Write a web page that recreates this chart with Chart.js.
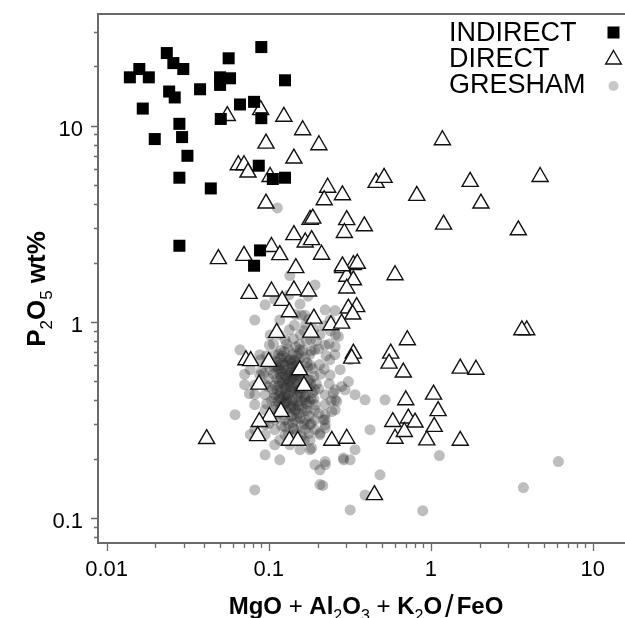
<!DOCTYPE html>
<html><head><meta charset="utf-8">
<script src="https://cdn.jsdelivr.net/npm/chart.js@4.4.1/dist/chart.umd.min.js"></script>
<style>html,body{margin:0;padding:0;background:#fff;overflow:hidden;}#wrap{width:625px;height:618px;overflow:hidden;}canvas{display:block;}</style>
</head><body><div id="wrap"><canvas id="c" width="625" height="618" style="width:625px;height:618px"></canvas></div>
<script>
const seriesLabels = ['INDIRECT', 'DIRECT', 'GRESHAM'];

const indirect = [
[0.0139,17.6],[0.0159,19.4],[0.0182,17.6],[0.0235,23.4],[0.0258,20.8],[0.0297,19.4],[0.0243,14.9],[0.0263,13.9],
[0.0167,12.2],[0.0377,15.3],[0.0501,17.6],[0.0501,16.1],[0.0577,17.4],[0.0566,22.0],[0.090,25.1],[0.126,17.0],
[0.0665,12.8],[0.0812,13.2],[0.0506,10.8],[0.090,10.9],[0.0281,10.2],[0.0198,8.53],[0.0292,8.73],[0.0315,7.01],
[0.0281,5.42],[0.0439,4.78],[0.0868,6.24],[0.106,5.34],[0.126,5.42],[0.0281,2.44],[0.0884,2.31],[0.0812,1.93]
];

const direct = [
[0.0555,11.2],[0.0892,12.0],[0.124,11.1],[0.162,9.48],[0.0962,8.10],[0.143,6.80],[0.0649,6.29],[0.0704,6.29],
[0.0745,5.77],[0.102,5.48],[0.0962,4.01],[0.180,3.31],[0.143,2.77],[0.168,2.54],[0.104,2.41],[0.117,2.19],
[0.0704,2.17],[0.0489,2.09],[0.147,1.88],[0.286,1.88],[0.333,1.95],[0.303,1.70],[0.333,1.63],[0.303,1.48],
[0.602,1.73],[0.0756,1.39],[0.104,1.43],[0.143,1.45],[0.176,1.43],[0.121,1.28],[0.134,1.12],[0.310,1.17],
[0.349,1.19],[0.330,1.09],[0.190,1.04],[0.242,0.962],[0.282,0.980],[0.182,0.882],[0.112,0.879],[0.333,0.689],
[0.325,0.650],[0.566,0.689],[0.553,0.613],[0.0724,0.638],[0.0774,0.631],[0.100,0.626],[0.155,0.567],[0.0871,0.479],
[0.165,0.472],[0.119,0.348],[0.101,0.328],[0.0875,0.309],[0.0855,0.262],[0.0414,0.253],[0.134,0.248],[0.151,0.248],
[0.245,0.248],[0.303,0.254],[0.583,0.309],[0.602,0.254],[0.449,0.131],[0.204,7.95],[1.18,8.43],[0.460,5.11],
[0.515,5.42],[1.75,5.17],[4.73,5.48],[0.231,4.83],[0.220,4.17],[0.285,4.42],[0.820,4.39],[2.04,4.01],
[0.187,3.36],[0.303,3.30],[0.293,2.84],[0.389,3.07],[1.20,3.13],[3.47,2.93],[0.184,2.61],[0.212,2.20],
[0.285,1.92],[0.352,1.98],[3.91,0.907],[3.65,0.907],[0.717,0.807],[0.677,0.552],[1.52,0.578],[1.90,0.571],
[0.701,0.399],[1.04,0.426],[1.11,0.351],[0.727,0.322],[0.80,0.307],[0.687,0.275],[1.05,0.292],[0.945,0.249],
[1.52,0.248]
];

const gresham = [
[0.135,1.72],[0.193,1.54],[0.095,1.22],[0.109,1.30],[0.133,1.37],[0.156,1.23],[0.146,1.09],[0.167,1.08],[0.223,1.15],[0.257,1.14],
[0.239,1.02],[0.169,0.965],[0.144,0.96],[0.117,1.02],[0.134,0.91],[0.157,0.86],[0.181,0.81],[0.207,0.86],[0.240,0.90],[0.258,0.855],
[0.222,0.76],[0.192,0.72],[0.179,0.68],[0.155,0.765],[0.126,0.81],[0.116,0.86],[0.102,0.855],[0.101,0.76],[0.088,0.68],[0.089,0.64],
[0.109,0.68],[0.117,0.60],[0.136,0.64],[0.155,0.645],[0.181,0.60],[0.206,0.605],[0.238,0.64],[0.256,0.68],[0.318,0.64],[0.276,0.57],
[0.239,0.535],[0.208,0.54],[0.180,0.505],[0.156,0.51],[0.135,0.535],[0.117,0.54],[0.102,0.57],[0.088,0.535],[0.077,0.57],[0.071,0.54],
[0.071,0.478],[0.082,0.476],[0.095,0.48],[0.109,0.475],[0.126,0.48],[0.145,0.45],[0.168,0.425],[0.193,0.45],[0.223,0.425],[0.257,0.45],
[0.296,0.45],[0.341,0.425],[0.393,0.40],[0.257,0.40],[0.223,0.378],[0.193,0.378],[0.168,0.40],[0.145,0.40],[0.126,0.425],[0.109,0.425],
[0.095,0.425],[0.082,0.425],[0.076,0.43],[0.062,0.336],[0.082,0.378],[0.095,0.356],[0.109,0.356],[0.126,0.356],[0.145,0.356],[0.168,0.356],
[0.193,0.356],[0.223,0.336],[0.257,0.356],[0.223,0.317],[0.193,0.317],[0.168,0.317],[0.145,0.317],[0.126,0.317],[0.109,0.317],[0.095,0.299],
[0.082,0.282],[0.095,0.266],[0.109,0.282],[0.126,0.266],[0.145,0.282],[0.168,0.282],[0.193,0.282],[0.223,0.299],[0.207,0.266],[0.180,0.25],
[0.156,0.25],[0.135,0.236],[0.117,0.25],[0.077,0.266],[0.109,0.236],[0.156,0.223],[0.180,0.223],[0.193,0.187],[0.223,0.187],[0.290,0.198],
[0.318,0.198],[0.341,0.223],[0.207,0.176],[0.095,0.21],[0.117,0.198],[0.207,0.148],[0.082,0.139],[0.318,0.11],[0.393,0.131],[0.486,0.166],
[0.422,0.282],[0.522,0.40],[0.0665,0.72],[0.082,1.02],
[0.175,1.35],[0.269,0.842],[0.257,0.748],[0.310,0.496],[0.282,0.468],[0.250,0.433],[0.263,0.393],[0.245,0.349],[0.218,0.317],[0.223,0.287],
[0.180,0.299],[0.207,0.271],[0.184,0.227],[0.223,0.194],[0.289,0.202],[1.13,0.208],[6.13,0.194],[0.2155,0.1465],[3.73,0.143],[0.892,0.109],
[0.113,3.80],
[0.097,0.672],[0.104,0.632],[0.111,0.598],[0.119,0.563],[0.128,0.652],[0.124,0.575],[0.138,0.611],[0.143,0.562],[0.133,0.498],[0.129,0.512],
[0.115,0.471],[0.107,0.543],[0.100,0.512],[0.093,0.545],[0.090,0.561],[0.097,0.612],[0.148,0.482],[0.153,0.446],[0.171,0.471],[0.177,0.455],
[0.165,0.531],[0.197,0.482],[0.190,0.528],[0.183,0.404],[0.159,0.396],[0.132,0.421],[0.119,0.404],[0.104,0.395],[0.097,0.382],[0.111,0.372],
[0.128,0.383],[0.142,0.373],[0.171,0.383],[0.190,0.405],[0.138,0.331],[0.115,0.341],[0.104,0.331],[0.153,0.340],[0.177,0.331],[0.203,0.341],
[0.159,0.295],[0.132,0.303],[0.120,0.295],[0.183,0.303],[0.171,0.802],[0.142,0.818],[0.183,0.713],[0.153,0.686],[0.203,0.727],[0.197,0.802],
[0.165,0.902],[0.190,0.918],[0.177,1.03],[0.159,1.08],[0.220,0.955],[0.226,0.672],[0.236,0.770],[0.148,0.672],[0.132,0.727],[0.119,0.713],
[0.107,0.770],[0.115,0.686],[0.220,0.575],[0.203,0.455],[0.236,0.482],[0.243,0.396],[0.138,0.372],[0.159,0.262],[0.177,0.270],[0.132,0.270],
[0.100,0.303],
[0.121,0.618],[0.139,0.585],[0.152,0.603],[0.127,0.533],[0.142,0.512],[0.161,0.566],[0.112,0.512],[0.124,0.458],[0.137,0.447],[0.150,0.418],
[0.118,0.438],[0.131,0.392],[0.147,0.356],[0.122,0.335],[0.140,0.305],[0.157,0.322],[0.173,0.352],[0.186,0.436],[0.172,0.618],[0.186,0.578],
[0.163,0.716],[0.147,0.745],[0.129,0.772],[0.121,0.668],[0.106,0.452],[0.099,0.467],[0.114,0.392],[0.126,0.292],[0.148,0.268],[0.166,0.248],
[0.118,0.652],[0.131,0.628],[0.146,0.593],[0.158,0.552],[0.134,0.571],[0.122,0.548],[0.139,0.523],[0.151,0.497],[0.163,0.482],[0.127,0.463],
[0.143,0.438],[0.158,0.462],[0.116,0.418],[0.129,0.406],[0.152,0.392],[0.166,0.412],[0.137,0.361],[0.118,0.368],[0.161,0.362],[0.178,0.392],
[0.125,0.705],[0.141,0.688],[0.156,0.722],[0.112,0.625],[0.108,0.588],[0.174,0.586],[0.168,0.655],[0.145,0.635],[0.136,0.468],[0.121,0.490],
[0.155,0.535],[0.175,0.505],[0.182,0.480],[0.113,0.448],[0.108,0.410],[0.125,0.385],[0.149,0.328],[0.131,0.345],[0.166,0.301],[0.142,0.287],
[0.126,0.602],[0.135,0.552],[0.148,0.528],[0.119,0.521],[0.131,0.481],[0.144,0.462],[0.157,0.435],[0.123,0.412],[0.139,0.398],[0.153,0.372],
[0.134,0.642],[0.149,0.612],[0.115,0.578],[0.128,0.427],[0.162,0.452],[0.144,0.548],[0.121,0.378],[0.137,0.505],[0.154,0.578],[0.116,0.498]
];

const xRange = [0.00884, 15.8];
const yRange = [0.0746, 37.0];
const xMajorTicks = [0.01, 0.1, 1, 10];
const xTickLabels = ['0.01', '0.1', '1', '10'];
const xMinorTicks = [0.02,0.03,0.04,0.05,0.06,0.07,0.08,0.09,0.2,0.3,0.4,0.5,0.6,0.7,0.8,0.9,2,3,4,5,6,7,8,9];
const yMajorTicks = [0.1, 1, 10];
const yTickLabels = ['0.1', '1', '10'];
const yMinorTicks = [0.08,0.09,0.2,0.3,0.4,0.5,0.6,0.7,0.8,0.9,2,3,4,5,6,7,8,9,20,30];

const xTitleParts = [['MgO','b'],[' + ','r'],['Al','b'],['2','s'],['O','b'],['3','s'],[' + ','r'],['K','b'],['2','s'],['O','b'],['/','slash'],['FeO','b']];
const yTitleParts = [['P','b'],['2','s'],['O','b'],['5','s'],[' wt%','b']];

const FONT = '"Liberation Sans", Arial, sans-serif';
const AXIS_COLOR = '#6a6a6a';

function partFont(kind, size) {
  if (kind === 'b') return 'bold ' + size + 'px ' + FONT;
  if (kind === 's') return Math.round(size * 0.66) + 'px ' + FONT;
  if (kind === 'slash') return Math.round(size * 1.3) + 'px ' + FONT;
  return size + 'px ' + FONT;
}
function drawParts(ctx, parts, size, cx, baseline) {
  let total = 0;
  const widths = parts.map(([t, k]) => {
    ctx.font = partFont(k, size);
    let w = ctx.measureText(t).width;
    if (k === 'slash') w += 6;
    total += w;
    return w;
  });
  let x = cx - total / 2;
  ctx.textAlign = 'left';
  ctx.textBaseline = 'alphabetic';
  parts.forEach(([t, k], i) => {
    ctx.font = partFont(k, size);
    let dy = 0, dx = 0;
    if (k === 's') dy = size * 0.28;
    if (k === 'slash') { dx = 3; dy = size * 0.12; }
    ctx.fillText(t, x + dx, baseline + dy);
    x += widths[i];
  });
}

const decor = {
  id: 'decor',
  afterDraw(chart) {
    const { ctx, chartArea: a, scales: { x, y } } = chart;
    ctx.save();
    ctx.strokeStyle = AXIS_COLOR;
    ctx.lineWidth = 2;
    ctx.beginPath();
    ctx.moveTo(chart.width, a.top); ctx.lineTo(a.left, a.top);
    ctx.lineTo(a.left, a.bottom); ctx.lineTo(chart.width, a.bottom);
    ctx.stroke();
    ctx.lineWidth = 1.3;
    ctx.beginPath();
    xMinorTicks.forEach(v => { const p = Math.round(x.getPixelForValue(v)) + 0.5; ctx.moveTo(p, a.bottom); ctx.lineTo(p, a.bottom + 5); });
    xMajorTicks.forEach(v => { const p = Math.round(x.getPixelForValue(v)) + 0.5; ctx.moveTo(p, a.bottom); ctx.lineTo(p, a.bottom + 8); });
    yMinorTicks.forEach(v => { const p = Math.round(y.getPixelForValue(v)) + 0.5; ctx.moveTo(a.left, p); ctx.lineTo(a.left - 4, p); });
    yMajorTicks.forEach(v => { const p = Math.round(y.getPixelForValue(v)) + 0.5; ctx.moveTo(a.left, p); ctx.lineTo(a.left - 7, p); });
    ctx.stroke();
    ctx.fillStyle = '#000';
    ctx.font = '22px ' + FONT;
    ctx.textBaseline = 'alphabetic';
    ctx.textAlign = 'center';
    xTickLabels.forEach((t, i) => ctx.fillText(t, x.getPixelForValue(xMajorTicks[i]), a.bottom + 33));
    ctx.textAlign = 'right';
    yTickLabels.forEach((t, i) => ctx.fillText(t, a.left - 15, y.getPixelForValue(yMajorTicks[i]) + 10));
    drawParts(ctx, xTitleParts, 24, 366, 614);
    ctx.save();
    ctx.translate(45, 289);
    ctx.rotate(-Math.PI / 2);
    drawParts(ctx, yTitleParts, 26, 0, 0);
    ctx.restore();
    const ds = chart.data.datasets;
    const rows = [41, 67, 93];
    const markY = [32.5, 59.5, 86];
    ctx.textAlign = 'left';
    ds.forEach((d, i) => {
      ctx.fillStyle = '#000';
      ctx.font = '27px ' + FONT;
      ctx.fillText(d.label, 449, rows[i]);
      ctx.fillStyle = d.legendFill;
      ctx.strokeStyle = d.borderColor || d.legendFill;
      ctx.lineWidth = d.borderWidth;
      Chart.helpers.drawPoint(ctx, { pointStyle: d.pointStyle, radius: d.legendRadius, rotation: 0, borderWidth: d.borderWidth }, 613.5, markY[i]);
    });
    ctx.restore();
  }
};

const toXY = arr => arr.map(([px, py]) => ({ x: px, y: py }));

new Chart(document.getElementById('c'), {
  type: 'scatter',
  data: {
    datasets: [
      { label: seriesLabels[0], data: toXY(indirect), pointStyle: 'rect', pointRadius: 8.5, pointHoverRadius: 8.5,
        backgroundColor: '#000', borderColor: '#000', borderWidth: 0, legendFill: '#000', legendRadius: 8.5 },
      { label: seriesLabels[1], data: toXY(direct), pointStyle: 'triangle', pointRadius: 9.3, pointHoverRadius: 9.3,
        backgroundColor: '#fff', borderColor: '#111', borderWidth: 1.4, legendFill: '#fff', legendRadius: 9 },
      { label: seriesLabels[2], data: toXY(gresham), pointStyle: 'circle', pointRadius: 5.5, pointHoverRadius: 5.5,
        backgroundColor: 'rgba(40,40,40,0.3)', borderWidth: 0, legendFill: '#c8c8c8', legendRadius: 5 }
    ]
  },
  options: {
    responsive: false, maintainAspectRatio: false, animation: false, events: [], devicePixelRatio: 1,
    layout: { autoPadding: false, padding: { top: 14, right: 0, bottom: 0, left: 0 } },
    plugins: { legend: { display: false }, tooltip: { enabled: false } },
    scales: {
      x: { type: 'logarithmic', min: xRange[0], max: xRange[1],
           ticks: { display: false }, grid: { display: false }, border: { display: false },
           afterFit(s) { s.height = 75; s.paddingLeft = 0; s.paddingRight = 0; } },
      y: { type: 'logarithmic', min: yRange[0], max: yRange[1],
           ticks: { display: false }, grid: { display: false }, border: { display: false },
           afterFit(s) { s.width = 98; s.paddingTop = 0; s.paddingBottom = 0; } }
    }
  },
  plugins: [decor]
});
</script></body></html>
